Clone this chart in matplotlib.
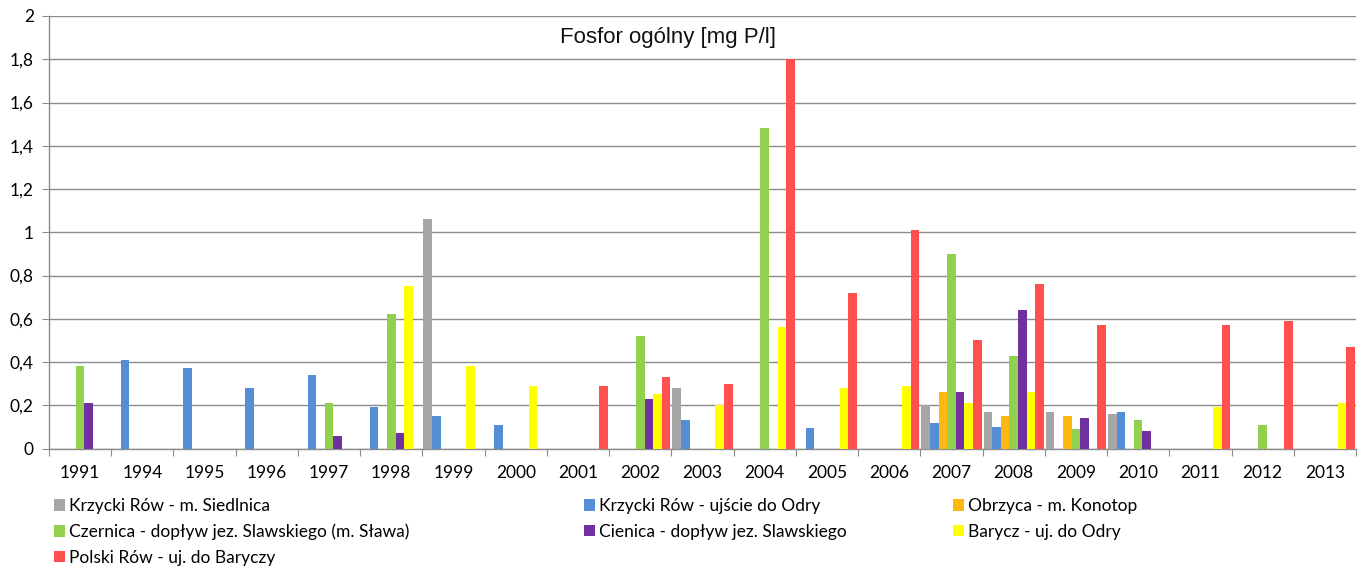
import matplotlib
matplotlib.use("Agg")
import matplotlib.pyplot as plt
import numpy as np
from matplotlib.patches import Patch

years = ["1991", "1994", "1995", "1996", "1997", "1998", "1999", "2000", "2001", "2002", "2003",
         "2004", "2005", "2006", "2007", "2008", "2009", "2010", "2011", "2012", "2013"]

series_names = [
    "Krzycki Rów - m. Siedlnica",
    "Krzycki Rów - ujście do Odry",
    "Obrzyca - m. Konotop",
    "Czernica - dopływ jez. Slawskiego (m. Sława)",
    "Cienica - dopływ jez. Slawskiego",
    "Barycz - uj. do Odry",
    "Polski Rów - uj. do Baryczy",
]

n = np.nan
#                 1991 1994 1995 1996 1997 1998 1999 2000 2001 2002 2003 2004 2005 2006 2007 2008 2009 2010 2011 2012 2013
krzycki_siedl = [n,   n,   n,   n,   n,   n,   1.06, n,   n,   n,   0.28, n,   n,   n,   0.20, 0.17, 0.17, 0.16, n,   n,   n]
krzycki_ujscie = [n,  0.41, 0.37, 0.28, 0.34, 0.19, 0.15, 0.11, n,  n,   0.13, n,   0.095, n,  0.12, 0.10, n,   0.17, n,   n,   n]
obrzyca =        [n,  n,   n,   n,   n,   n,   n,   n,   n,   n,   n,   n,   n,   n,   0.26, 0.15, 0.15, n,   n,   n,   n]
czernica =       [0.38, n,  n,   n,   0.21, 0.62, n,   n,   n,   0.52, n,   1.48, n,   n,   0.90, 0.43, 0.09, 0.13, n,   0.11, n]
cienica =        [0.21, n,  n,   n,   0.06, 0.07, n,   n,   n,   0.23, n,   n,   n,   n,   0.26, 0.64, 0.14, 0.08, n,   n,   n]
barycz =         [n,  n,   n,   n,   n,   0.75, 0.38, 0.29, n,   0.25, 0.20, 0.56, 0.28, 0.29, 0.21, 0.26, n,   n,   0.19, n,   0.21]
polski_row =     [n,  n,   n,   n,   n,   n,   n,   n,   0.29, 0.33, 0.30, 1.80, 0.72, 1.01, 0.50, 0.76, 0.57, n,   0.57, 0.59, 0.47]

series_values = [krzycki_siedl, krzycki_ujscie, obrzyca, czernica, cienica, barycz, polski_row]
colors = ["#A6A6A6", "#558ED5", "#FFB80F", "#92D050", "#7030A0", "#FFFF00", "#FF4F4F"]

title = "Fosfor ogólny [mg P/l]"
yticks = [0, 0.2, 0.4, 0.6, 0.8, 1.0, 1.2, 1.4, 1.6, 1.8, 2.0]
ytick_labels = ["0", "0,2", "0,4", "0,6", "0,8", "1", "1,2", "1,4", "1,6", "1,8", "2"]

W, H = 1363, 570
fig = plt.figure(figsize=(W / 100, H / 100), dpi=100)
ax = fig.add_axes([49 / W, 1 - 448.5 / H, (1356 - 49) / W, (448.5 - 16) / H])

x = np.arange(len(years))
w = 0.138
for k, (vals, col) in enumerate(zip(series_values, colors)):
    ax.bar(x + (k - 3) * w, vals, width=w, color=col, linewidth=0, zorder=3)

ax.set_xlim(-0.5, len(years) - 0.5)
ax.set_ylim(0, 2)
ax.set_yticks(yticks)
ax.set_yticklabels(ytick_labels, family="Lato", fontsize=12.5)
ax.yaxis.grid(True, color="#8C8C8C", linewidth=1.0, zorder=0)
ax.set_axisbelow(True)

ax.set_xticks(np.arange(len(years) + 1) - 0.5)
ax.set_xticklabels([])
ax.set_xticks(x, minor=True)
ax.set_xticklabels(years, minor=True, family="Lato", fontsize=12.5)
ax.tick_params(axis="x", which="major", length=5, color="#8C8C8C", direction="out")
ax.tick_params(axis="x", which="minor", length=0, pad=12)
ax.tick_params(axis="y", length=5, color="#8C8C8C", direction="out", pad=6)

for s in ["top", "right"]:
    ax.spines[s].set_visible(False)
for s in ["left", "bottom"]:
    ax.spines[s].set_color("#8C8C8C")
    ax.spines[s].set_linewidth(1.0)

ax.text((668 - 49) / (1356 - 49), (448.5 - 38) / (448.5 - 16), title,
        transform=ax.transAxes, ha="center", va="center",
        family="Liberation Sans", fontsize=16, color="#111111",
        bbox=dict(facecolor="white", edgecolor="none", pad=1), zorder=5)

handles = [Patch(facecolor=c, edgecolor="none") for c in colors]
col_groups = [[0, 3, 6], [1, 4], [2, 5]]
col_x = [54, 584, 953]
for grp, cx in zip(col_groups, col_x):
    leg = fig.legend([handles[i] for i in grp], [series_names[i] for i in grp],
                     loc="upper left", bbox_to_anchor=(cx / W, 1 - 498 / H),
                     frameon=False, prop={"family": "Lato", "size": 12.5},
                     handlelength=0.65, handleheight=0.65, handletextpad=0.2,
                     labelspacing=0.55, borderaxespad=0, borderpad=0)

fig.savefig("out.png", dpi=100, facecolor="white")
